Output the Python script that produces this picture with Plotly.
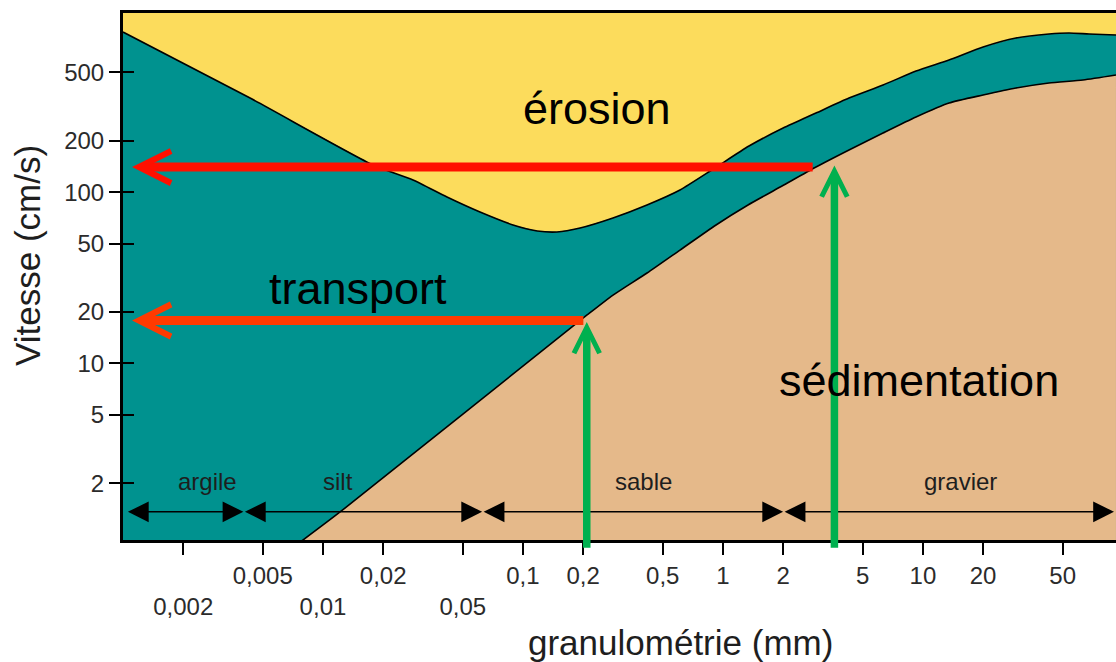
import numpy as np
import plotly.graph_objects as go

# ---------------- data ----------------
# erosion threshold (yellow / teal boundary)
erosion_mm = [0.001, 0.00432, 0.0178, 0.0282, 0.0417, 0.061, 0.0892, 0.118, 0.148,
              0.193, 0.282, 0.417, 0.610, 0.892, 1.35, 2.0, 2.92, 4.27, 6.32, 9.24,
              13.5, 20.0, 29.2, 42.7, 53.8, 67.7, 92.4]
erosion_cms = [860, 354, 144, 117.7, 93.6, 76.5, 64.3, 59.3, 58.5,
               61.7, 70.6, 84.1, 102.9, 136.0, 185.8, 236.7, 289.6, 354.2, 421.8, 509.3,
               590.4, 703.4, 793.7, 837.6, 848.9, 837.6, 826.4]

# sedimentation threshold (teal / tan boundary)
sed_mm = [0.00783, 0.01218, 0.2092, 0.2822, 0.4174, 0.6103, 0.9237, 1.335, 1.975,
          2.921, 4.271, 6.318, 9.237, 13.51, 19.98, 29.21, 42.71, 63.18, 92.38]
sed_cms = [0.919, 1.357, 19.17, 25.07, 33.7, 45.9, 64.3, 84.1, 108.5,
           140.1, 176.1, 221.3, 274.5, 331.2, 368.8, 405.3, 433.5, 451.3, 482.6]

# red (velocity read-off) arrows
red_cms = [140, 17.8]
red_from_mm = [2.86, 0.204]
red_tip_mm = 0.00111
red_colors = ["#FF1000", "#FF3A00"]

# green (grain size) arrows
green_mm = [0.2085, 3.61]
green_tip_cms = [17.45, 142.8]
green_from_cms = 0.822
green_color = "#00B04F"

# grain size classes
class_names = ["argile", "silt", "sable", "gravier"]
class_bounds = [0.00104, 0.004, 0.0625, 2.0, 90.3]
class_label_mm = [0.00265, 0.0119, 0.401, 15.45]
class_line_cms = 1.36
class_label_cms = 2.05

# region labels
region_names = ["érosion", "transport", "sédimentation"]
region_mm = [0.234, 0.0150, 9.51]
region_cms = [308.8, 27.2, 8.0]

# axes
x_tickvals = [0.002, 0.005, 0.01, 0.02, 0.05, 0.1, 0.2, 0.5, 1, 2, 5, 10, 20, 50]
x_ticktext = ["<br>0,002", "0,005", "<br>0,01", "0,02", "<br>0,05", "0,1", "0,2",
              "0,5", "1", "2", "5", "10", "20", "50"]
y_tickvals = [2, 5, 10, 20, 50, 100, 200, 500]
x_range_mm = [0.001, 92.4]
y_range_cms = [0.931, 1111]

YELLOW = "#FCDC5C"
TEAL = "#00928F"
TAN = "#E5B98A"
FONT = "Liberation Sans, Arial, sans-serif"
FLOOR = 0.3


def L(v):
    return float(np.log10(v))


fig = go.Figure()

# teal: everything below the erosion curve
fig.add_trace(go.Scatter(
    x=erosion_mm + [erosion_mm[-1], erosion_mm[0]],
    y=erosion_cms + [FLOOR, FLOOR],
    fill="toself", fillcolor=TEAL, mode="lines", line=dict(width=0),
    hoverinfo="skip", showlegend=False))
# tan: everything below the sedimentation curve
fig.add_trace(go.Scatter(
    x=sed_mm + [sed_mm[-1], sed_mm[0]],
    y=sed_cms + [FLOOR, FLOOR],
    fill="toself", fillcolor=TAN, mode="lines", line=dict(width=0),
    hoverinfo="skip", showlegend=False))
# outlines
fig.add_trace(go.Scatter(x=erosion_mm, y=erosion_cms, mode="lines",
                         line=dict(color="black", width=1.6, shape="spline", smoothing=0.6),
                         hoverinfo="skip", showlegend=False))
fig.add_trace(go.Scatter(x=sed_mm, y=sed_cms, mode="lines",
                         line=dict(color="black", width=1.6, shape="spline", smoothing=0.6),
                         hoverinfo="skip", showlegend=False))
# carrier for the inside-tick overlay axis
fig.add_trace(go.Scatter(x=[erosion_mm[0]], y=[erosion_cms[0]], yaxis="y2",
                         mode="markers", marker=dict(opacity=0),
                         hoverinfo="skip", showlegend=False))

ann = []
# size class double arrows
for i, name in enumerate(class_names):
    ann.append(dict(x=L(class_bounds[i + 1]), y=L(class_line_cms),
                    ax=L(class_bounds[i]), ay=L(class_line_cms),
                    xref="x", yref="y", axref="x", ayref="y", text="",
                    showarrow=True, arrowside="end+start",
                    arrowhead=2, startarrowhead=2, arrowsize=2.6, startarrowsize=2.6,
                    arrowwidth=1.6, arrowcolor="black"))
    ann.append(dict(x=L(class_label_mm[i]), y=L(class_label_cms), text=name,
                    xref="x", yref="y", showarrow=False,
                    font=dict(family=FONT, size=24, color="#1e1e1e"),
                    xanchor="center", yanchor="middle"))

# red arrows
for v, x0, col in zip(red_cms, red_from_mm, red_colors):
    ann.append(dict(x=L(red_tip_mm), y=L(v), ax=L(x0), ay=L(v),
                    xref="x", yref="y", axref="x", ayref="y", text="",
                    showarrow=True, arrowhead=5, arrowsize=0.7, arrowwidth=9,
                    arrowcolor=col))
# green arrows
for xm, yt in zip(green_mm, green_tip_cms):
    ann.append(dict(x=L(xm), y=L(yt), ax=L(xm), ay=L(green_from_cms),
                    xref="x", yref="y", axref="x", ayref="y", text="",
                    showarrow=True, arrowhead=5, arrowsize=0.67, arrowwidth=7.5,
                    arrowcolor=green_color))

# region labels
for name, xm, ym in zip(region_names, region_mm, region_cms):
    ann.append(dict(x=L(xm), y=L(ym), text=name, xref="x", yref="y",
                    showarrow=False, font=dict(family=FONT, size=45, color="black"),
                    xanchor="center", yanchor="middle"))

# axis titles
ann.append(dict(x=0.5614, y=-0.1954, xref="paper", yref="paper",
                text="granulométrie (mm)", showarrow=False,
                font=dict(family=FONT, size=35, color="#1e1e1e"),
                xanchor="center", yanchor="middle"))
ann.append(dict(x=-0.0957, y=0.5408, xref="paper", yref="paper",
                text="Vitesse (cm/s)", showarrow=False, textangle=-90,
                font=dict(family=FONT, size=35, color="#1e1e1e"),
                xanchor="center", yanchor="middle"))

yr = [L(y_range_cms[0]), L(y_range_cms[1])]
fig.update_layout(
    width=1116, height=662,
    margin=dict(l=123, r=0, t=13, b=122),
    paper_bgcolor="white", plot_bgcolor=YELLOW,
    showlegend=False,
    annotations=ann,
    xaxis=dict(type="log", range=[L(x_range_mm[0]), L(x_range_mm[1])],
               tickvals=x_tickvals, ticktext=x_ticktext,
               ticks="outside", ticklen=12, tickwidth=2, tickcolor="black",
               showline=True, linewidth=3, linecolor="black", mirror=True,
               showgrid=False, zeroline=False,
               tickfont=dict(family=FONT, size=24, color="#2b2b2b")),
    yaxis=dict(type="log", range=yr,
               tickvals=y_tickvals, ticktext=[str(v) for v in y_tickvals],
               ticks="outside", ticklen=11, tickwidth=2, tickcolor="black",
               showline=True, linewidth=3, linecolor="black",
               showgrid=False, zeroline=False,
               tickfont=dict(family=FONT, size=24, color="#2b2b2b")),
    yaxis2=dict(type="log", range=yr, overlaying="y", side="left", anchor="x",
                tickvals=y_tickvals, ticks="inside", ticklen=11, tickwidth=2,
                tickcolor="black", showticklabels=False, showline=False,
                showgrid=False, zeroline=False),
)

fig.write_html("out.html")
